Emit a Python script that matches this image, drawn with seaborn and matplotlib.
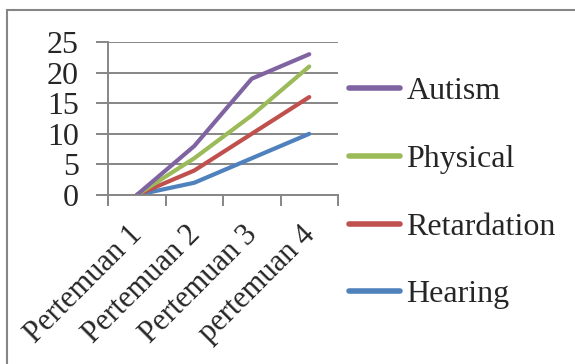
import pandas as pd
import numpy as np
import matplotlib.pyplot as plt
import matplotlib.transforms as mtransforms
import seaborn as sns
from matplotlib.patches import Rectangle

# data
pertemuan = ['Pertemuan 1', 'Pertemuan 2', 'Pertemuan 3', 'pertemuan 4']
hearing = [0, 2, 6, 10]
retardation = [0, 4, 10, 16]
physical = [0, 6, 13, 21]
autism = [0, 8, 19, 23]

series = ['Hearing', 'Retardation', 'Physical', 'Autism']
warna = {'Hearing': '#4F81BD', 'Retardation': '#C0504D',
         'Physical': '#9BBB59', 'Autism': '#8064A2'}

df = pd.DataFrame({
    'pertemuan': pertemuan * 4,
    'nilai': hearing + retardation + physical + autism,
    'kelompok': np.repeat(series, len(pertemuan)),
})
df['pos'] = df['pertemuan'].map({p: i for i, p in enumerate(pertemuan)})

sns.set_style('white')
plt.rcParams['font.family'] = ['Liberation Serif', 'DejaVu Serif']

fig = plt.figure(figsize=(5.75, 3.64), dpi=100)
ax = fig.add_axes([108 / 575, 1 - 195 / 364, 230 / 575, 153 / 364])

sns.lineplot(data=df, x='pos', y='nilai', hue='kelompok', hue_order=series,
             palette=warna, linewidth=3, ax=ax, legend=False)

abu = '#868686'
ax.set_xlim(-0.5, 3.5)
ax.set_ylim(0, 25)
ax.set_yticks([0, 5, 10, 15, 20, 25])
ax.yaxis.grid(True, color=abu, linewidth=1.4)
ax.set_axisbelow(True)
ax.set_xticks(range(len(pertemuan)))
ax.set_xticklabels(pertemuan, rotation=45, ha='right', va='top', rotation_mode='anchor')
ax.set_xticks(np.arange(-0.5, 4, 1), minor=True)
ax.tick_params(axis='x', which='major', length=0, pad=18, labelsize=22)
ax.tick_params(axis='x', which='minor', length=8, width=1.4, color=abu, direction='out', bottom=True)
ax.tick_params(axis='y', length=9, width=1.4, color=abu, direction='out', left=True, labelsize=23, pad=12)
ax.set_xlabel('')
ax.set_ylabel('')
for s in ['top', 'right']:
    ax.spines[s].set_visible(False)
for s in ['left', 'bottom']:
    ax.spines[s].set_color(abu)
    ax.spines[s].set_linewidth(1.4)
ax.spines['left'].set_bounds(-1.4, 25)

# nudge the rotated labels a little to the left
geser = mtransforms.ScaledTranslation(-9 / 100, 0, fig.dpi_scale_trans)
for lbl in ax.get_xticklabels():
    lbl.set_transform(lbl.get_transform() + geser)

# legend, reversed order like the original
handles = [plt.Line2D([], [], color=warna[k], linewidth=4) for k in series[::-1]]
fig.legend(handles, series[::-1], loc='upper left', bbox_to_anchor=(349 / 575, 1 - 77 / 364),
           frameon=False, fontsize=23, handlelength=1.6, handletextpad=0.2,
           labelspacing=1.2, borderaxespad=0, borderpad=0)

# outer chart border
fig.add_artist(Rectangle((7 / 575, -0.1), 1.1, 1.1 - 10 / 364, transform=fig.transFigure,
                         fill=False, edgecolor=abu, linewidth=1.5))

fig.savefig('out.png', dpi=100)
